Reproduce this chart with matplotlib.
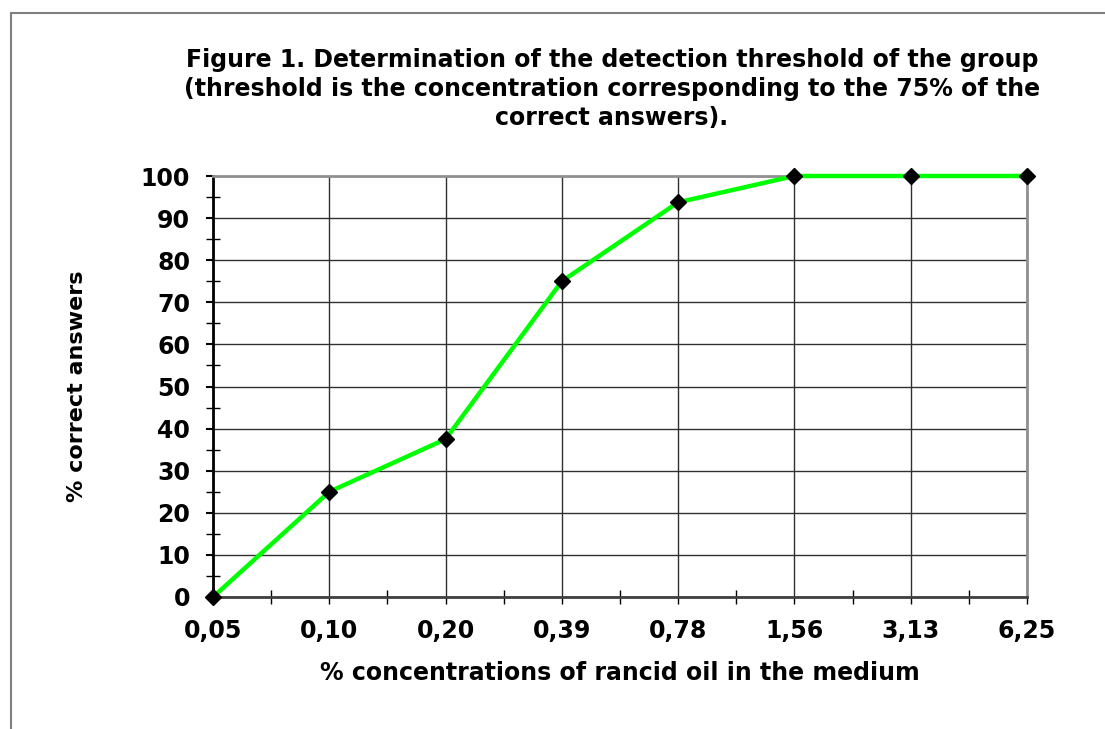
import matplotlib
matplotlib.use("Agg")
import matplotlib.pyplot as plt
from matplotlib.patches import Rectangle
from matplotlib.ticker import MultipleLocator, FixedLocator

categories = ["0,05", "0,10", "0,20", "0,39", "0,78", "1,56", "3,13", "6,25"]
correct = [0, 25, 37.5, 75, 93.75, 100, 100, 100]
yticks = [0, 10, 20, 30, 40, 50, 60, 70, 80, 90, 100]

title = ("Figure 1. Determination of the detection threshold of the group\n"
         "(threshold is the concentration corresponding to the 75% of the\n"
         "correct answers).")
xlabel = "% concentrations of rancid oil in the medium"
ylabel = "% correct answers"

plt.rcParams['font.family'] = ['DejaVu Sans']
plt.rcParams['font.weight'] = 'bold'

W, H = 1105, 729
fig = plt.figure(figsize=(W / 100, H / 100), dpi=100)

# outer chart border (clipped at right/bottom)
fig.patches.append(Rectangle((11 / W, -0.05), 1.2, 1 - 13 / H + 0.05,
                             transform=fig.transFigure, fill=False,
                             edgecolor="#808080", linewidth=1.5))

ax = fig.add_axes([213 / W, 1 - 597 / H, (1027 - 213) / W, (597 - 176) / H])
x = list(range(len(categories)))

ax.set_xlim(0, len(categories) - 1)
ax.set_ylim(0, 100)
ax.set_xticks(x)
ax.set_xticklabels(categories)
ax.xaxis.set_minor_locator(FixedLocator([i + 0.5 for i in x[:-1]]))
ax.set_yticks(yticks)
ax.yaxis.set_minor_locator(MultipleLocator(5))

ax.grid(True, which="major", color="#303030", linewidth=1.0)
ax.set_axisbelow(True)

for s in ("top", "right"):
    ax.spines[s].set_color("#909090")
    ax.spines[s].set_linewidth(2)
ax.spines["left"].set_color("black")
ax.spines["left"].set_linewidth(2)
ax.spines["bottom"].set_color("#404040")
ax.spines["bottom"].set_linewidth(2)

ax.tick_params(axis="x", which="major", direction="out", length=5, width=1,
               pad=11, labelsize=17)
ax.tick_params(axis="x", which="minor", direction="inout", length=10, width=1)
ax.tick_params(axis="y", which="major", direction="out", length=5, width=1.5,
               pad=11.5, labelsize=17)
ax.tick_params(axis="y", which="minor", direction="inout", length=10, width=1)
for lab in ax.get_xticklabels() + ax.get_yticklabels():
    lab.set_fontweight("bold")

ax.plot(x, correct, color="#00FF00", linewidth=3.2, marker="D",
        markersize=8, markerfacecolor="black", markeredgecolor="black",
        clip_on=False, zorder=5)

ax.set_xlabel(xlabel, fontsize=17, fontweight="bold", labelpad=12.5)
ax.set_ylabel(ylabel, fontsize=16, fontweight="bold", labelpad=39)

fig.text(612 / W, 1 - 89 / H, title, ha="center", va="center",
         fontsize=17, fontweight="bold", linespacing=1.24)

fig.savefig("out.png", dpi=100)
